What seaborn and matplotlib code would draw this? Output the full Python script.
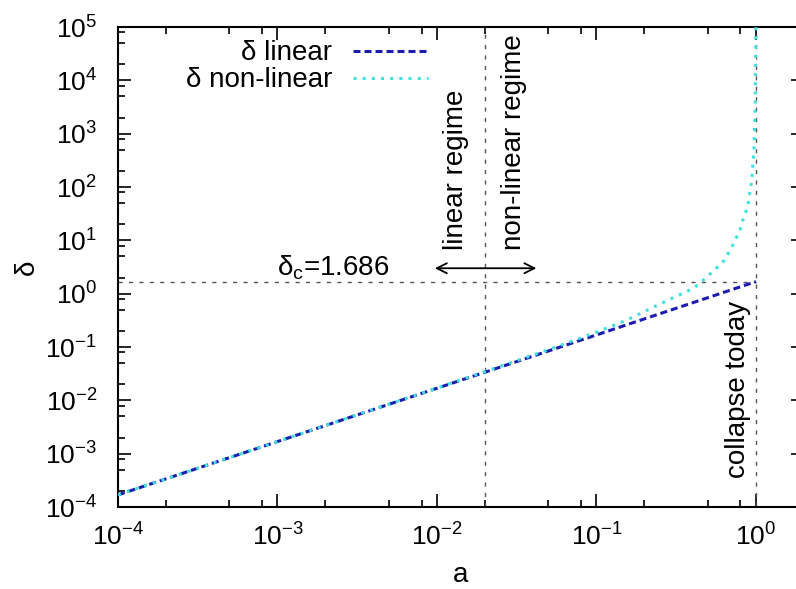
import numpy as np
import pandas as pd
import matplotlib
matplotlib.use("Agg")
import matplotlib.pyplot as plt
from matplotlib.ticker import LogLocator, LogFormatterMathtext, NullFormatter
import seaborn as sns

# Scale factor and overdensity, linear growth
a_lin = [1e-4, 1e-3, 1e-2, 1e-1, 1.0]
delta_lin = [1.686e-4, 1.686e-3, 1.686e-2, 0.1686, 1.686]

# Spherical-collapse (non-linear) overdensity
a_nl = [1e-4, 1e-3, 1e-2, 0.05, 0.1, 0.155, 0.25, 0.405, 0.457, 0.55, 0.624,
        0.7, 0.794, 0.853, 0.875, 0.9, 0.94, 0.97, 0.99, 0.998]
delta_nl = [1.686e-4, 1.687e-3, 1.70e-2, 0.089, 0.19, 0.32, 0.64, 1.26, 1.686,
            2.8, 4.0, 7.1, 15.7, 32.0, 37.0, 55.0, 135.0, 430.0, 3.8e3, 1e5]

delta_c = 1.686
a_split = 0.02
a_today = 1.0

sns.set_theme(style="ticks")
plt.rcParams["font.family"] = ["Liberation Sans", "DejaVu Sans"]
plt.rcParams["mathtext.fontset"] = "custom"
plt.rcParams["mathtext.rm"] = "Liberation Sans"
plt.rcParams["mathtext.it"] = "Liberation Sans"
plt.rcParams["mathtext.bf"] = "Liberation Sans"
plt.rcParams["text.color"] = "black"
plt.rcParams["axes.labelcolor"] = "black"

FS = 20
TFS = 19

fig = plt.figure(figsize=(7.96, 5.89), dpi=100)
ax = fig.add_axes([0.1482, 0.1392, 0.8618, 0.8149])
ax.set_xscale("log")
ax.set_yscale("log")

df_lin = pd.DataFrame({"a": a_lin, "delta": delta_lin})
df_nl = pd.DataFrame({"a": a_nl, "delta": delta_nl})

ref_kw = dict(color="#555555", lw=1.0, linestyle=(0, (3, 4.5)), zorder=1)
ax.axvline(a_split, **ref_kw)
ax.axvline(a_today, **ref_kw)
ax.plot([1e-4, a_today], [delta_c, delta_c], **ref_kw)

sns.lineplot(data=df_lin, x="a", y="delta", ax=ax, color="#1c1cb0", lw=2.2,
             linestyle=(0, (2.3, 1.3)), label="δ linear", zorder=3)
sns.lineplot(data=df_nl, x="a", y="delta", ax=ax, color="#3fe0e0", lw=2.2,
             linestyle=(0, (1, 2)), label="δ non-linear", zorder=4)

ax.set_xlim(1e-4, 2.0)
ax.set_ylim(1e-4, 1e5)

# Regime arrows and annotations
arrow_kw = dict(arrowstyle="->", color="black", lw=1.3, mutation_scale=18,
                shrinkA=0, shrinkB=0)
ax.annotate("", xy=(0.0097, 3.0), xytext=(0.0199, 3.0), arrowprops=arrow_kw)
ax.annotate("", xy=(0.042, 3.0), xytext=(0.0201, 3.0), arrowprops=arrow_kw)
ax.text(0.01324, 6.6, "linear regime", rotation=90, ha="center", va="bottom",
        fontsize=FS)
ax.text(0.0302, 6.6, "non-linear regime", rotation=90, ha="center",
        va="bottom", fontsize=FS)
ax.text(1.0e-3, 2.24, "δ$_{\\rm c}$=1.686", ha="left", va="baseline",
        fontsize=FS)
ax.text(0.77, 3.5e-4, "collapse today", rotation=90, ha="center",
        va="bottom", fontsize=FS)

ax.set_xlabel("a", fontsize=FS, labelpad=8)
ax.set_ylabel("δ", fontsize=FS, labelpad=4)

for axis in (ax.xaxis, ax.yaxis):
    axis.set_major_locator(LogLocator(base=10, numticks=20))
    axis.set_minor_locator(LogLocator(base=10, subs=(2, 5, 8), numticks=20))
    axis.set_major_formatter(LogFormatterMathtext())
    axis.set_minor_formatter(NullFormatter())

ax.tick_params(which="both", direction="in", top=True, right=True,
               colors="black", labelsize=TFS)
ax.tick_params(which="major", length=9.5, width=1.2)
ax.tick_params(which="minor", length=5, width=1.2)
ax.tick_params(axis="x", which="major", pad=12)
ax.tick_params(axis="y", which="major", pad=15)

for sp in ax.spines.values():
    sp.set_visible(True)
    sp.set_color("black")
    sp.set_linewidth(1.5)

ax.legend(loc="upper right", bbox_to_anchor=(0.452, 0.972), frameon=False,
          markerfirst=False, fontsize=FS, handlelength=2.7,
          handletextpad=0.75, labelspacing=0.03, borderaxespad=0, borderpad=0)

fig.savefig("out.png", dpi=100, facecolor="white")
